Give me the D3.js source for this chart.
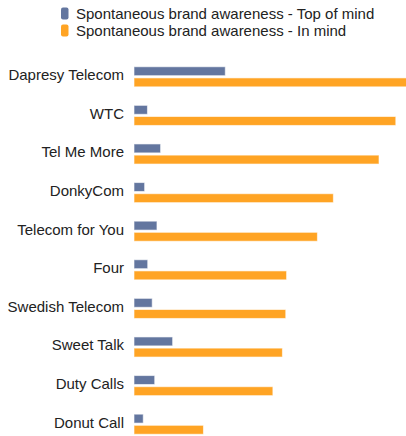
<!DOCTYPE html>
<html>
<head>
<meta charset="utf-8">
<script src="https://cdn.jsdelivr.net/npm/d3@7"></script>
<style>
  body { margin: 0; background: #fff; }
  text { font-family: "Liberation Sans", Arial, sans-serif; fill: #222; }
</style>
</head>
<body>
<div class="container"></div>
<script>
const brands = ["Dapresy Telecom", "WTC", "Tel Me More", "DonkyCom", "Telecom for You",
  "Four", "Swedish Telecom", "Sweet Talk", "Duty Calls", "Donut Call"];
const series = ["Spontaneous brand awareness - Top of mind", "Spontaneous brand awareness - In mind"];
const topOfMind = [32.6, 4.8, 9.5, 3.8, 8.2, 4.9, 6.5, 13.8, 7.4, 3.3];
const inMind = [99, 93.5, 87.5, 71.2, 65.5, 54.5, 54.2, 53, 49.6, 24.8];
const colors = ["#63769f", "#ffa424"];

const W = 406, H = 436;
const data = brands.map((b, i) => ({ brand: b, values: [topOfMind[i], inMind[i]] }));

let svg = d3.select(".container").append("svg").attr("width", W).attr("height", H);

//Scales
let x = d3.scaleLinear().domain([0, 100]).range([134, 414]);
let y = d3.scaleBand().domain(brands).range([57.5, 443.5]).paddingInner(0.48).paddingOuter(0.24);
let y1 = d3.scaleBand().domain([0, 1]).range([0, y.bandwidth()]).paddingInner(0.2);

//Legend
let legend = svg.selectAll(".legend").data(series).enter().append("g").attr("class", "legend")
  .attr("transform", (d, i) => "translate(61," + (7.5 + i * 17) + ")");
legend.append("rect").attr("width", 7.5).attr("height", 12).attr("rx", 2).attr("ry", 2)
  .style("fill", (d, i) => colors[i]);
legend.append("text").attr("x", 15).attr("y", 11.5).style("font-size", "15px").text(d => d);

//Category labels
svg.append("g").selectAll("text").data(brands).enter().append("text")
  .attr("x", 124).attr("y", d => y(d) + y.bandwidth() / 2).attr("dy", "0.22em")
  .attr("text-anchor", "end").style("font-size", "15px").text(d => d);

//Bars
let groups = svg.append("g").selectAll("g").data(data).enter().append("g")
  .attr("transform", d => "translate(0," + y(d.brand) + ")");
groups.selectAll("rect").data(d => d.values).enter().append("rect")
  .attr("x", x(0)).attr("y", (d, i) => y1(i))
  .attr("width", d => x(d) - x(0)).attr("height", y1.bandwidth())
  .style("fill", (d, i) => colors[i])
  .style("stroke", "#fff").style("stroke-opacity", 0.6).style("stroke-width", 1);
</script>
</body>
</html>
